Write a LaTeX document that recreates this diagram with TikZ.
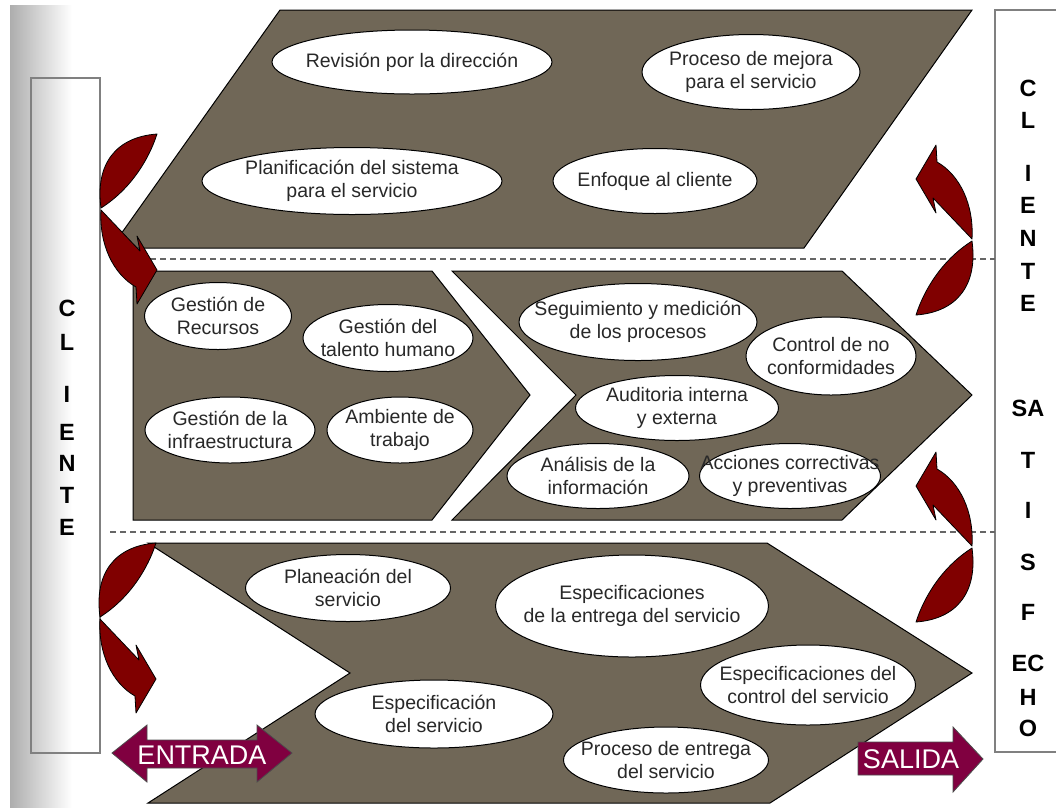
\documentclass[tikz,border=0pt]{standalone}
\usepackage{fontspec}
\setmainfont{Liberation Sans}
\usetikzlibrary{shapes.geometric}

\definecolor{fondo}{RGB}{112,103,87}
\definecolor{rojo}{RGB}{128,0,0}
\definecolor{vino}{RGB}{128,0,64}
\definecolor{texto}{RGB}{40,40,40}

\tikzset{
  etapa/.style={draw=black, fill=fondo, line width=1pt},
  burbuja/.style 2 args={ellipse, draw=black, fill=white, line width=1pt,
    minimum width=#1, minimum height=#2, inner sep=0pt},
  every label/.style={align=center, text=texto, inner sep=0pt,
    font=\fontsize{19.5}{23}\selectfont},
  columna/.style={draw=black!50, line width=1.5pt},
  letra/.style={font=\fontsize{23.5}{24}\selectfont\bfseries, inner sep=0pt},
  corte/.style={black!60, line width=1.3pt, dash pattern=on 6pt off 4pt},
  giro/.style={draw=black, fill=rojo, line width=0.8pt, line join=round},
  flecha/.style={draw=black!70, fill=vino, line width=0.8pt},
  cartel/.style={text=white, inner sep=0pt, font=\fontsize{27}{27}\selectfont},
  vuelta/.pic={
    %leaf above the meeting point
    \path[giro] (0,-1) .. controls (-6,-45) and (15,-72) .. (56,-75)
      .. controls (48,-50) and (30,-20) .. cycle;
    %bent arrow below it
    \path[giro] (0,1) -- (39,42) -- (36,27) -- (56,61) -- (36,95) -- (35,78)
      .. controls (12,65) and (-2,35) .. cycle;
  }
}

\begin{document}
\begin{tikzpicture}[x=1pt, y=-1pt]
  \useasboundingbox (0,0) rectangle (1056,807);
  %shadow strip and the two client columns
  \shade[left color=black!32, right color=white] (10,5) rectangle (72,807);
  \draw[columna] (31,78) rectangle (100,753);
  \draw[columna] (1060,10) -- (995,10) -- (995,752) -- (1060,752);
  \foreach \t/\y [count=\i] in {C/308,L/342,I/394,E/432,N/463,T/495,E/527}
    \node[letra] (izq\i) at (67,\y) {\t};
  \foreach \t/\y [count=\i] in {C/88,L/120,I/173,E/205,N/238,T/271,E/303,
      SA/408,T/460,I/510,S/562,F/612,EC/663,H/697,O/728}
    \node[letra] (der\i) at (1028,\y) {\t};

  \draw[corte] (110,259) -- (995,259);
  \draw[corte] (110,532) -- (995,532);

  %the four process blocks
  \path[etapa] (280,10) -- (972,10) -- (804,248) -- (111,248) -- cycle;
  \path[etapa] (133,271) -- (432,271) -- (530,395) -- (432,520) -- (133,520) -- cycle;
  \path[etapa] (452,271) -- (842,271) -- (972,395) -- (842,520) -- (452,520)
    -- (576,395) -- cycle;
  \path[etapa] (148,543) -- (767,543) -- (972,673) -- (770,803) -- (148,803)
    -- (350,673) -- cycle;

  %direction
  \node[burbuja={280}{64}, label=center:{Revisión por la dirección}] (revision) at (412,62) {};
  \node[burbuja={218}{75}, label=center:{Proceso de mejora\\para el servicio}] (mejora) at (751,72) {};
  \node[burbuja={300}{67}, label=center:{Planificación del sistema\\para el servicio}] (planificacion) at (352,181) {};
  \node[burbuja={204}{65}, label=center:{Enfoque al cliente}] (enfoque) at (655,181) {};
  %resources
  \node[burbuja={147}{67}, label=center:{Gestión de\\Recursos}] (recursos) at (218,316) {};
  \node[burbuja={170}{67}, label=center:{Gestión del\\talento humano}] (talento) at (388,338) {};
  \node[burbuja={170}{66}, label=center:{Gestión de la\\infraestructura}] (infra) at (230,430) {};
  \node[burbuja={146}{66}, label=center:{Ambiente de\\trabajo}] (ambiente) at (400,430) {};
  %measurement
  \node[burbuja={238}{77}, label=center:{Seguimiento y medición\\de los procesos}] (seguimiento) at (638,322) {};
  \node[burbuja={170}{78}, label=center:{Control de no\\conformidades}] (control) at (831,356) {};
  \node[burbuja={203}{65}, label=center:{Auditoria interna\\y externa}] (auditoria) at (677,408) {};
  \node[burbuja={182}{65}, label=center:{Análisis de la\\información}] (analisis) at (598,476) {};
  \node[burbuja={181}{65}, label=center:{Acciones correctivas\\y preventivas}] (acciones) at (790,476) {};
  %service realisation
  \node[burbuja={205}{67}, label=center:{Planeación del\\servicio}] (planeacion) at (348,588) {};
  \node[burbuja={273}{102}, label=center:{Especificaciones\\de la entrega del servicio}] (entrega) at (632,606) {};
  \node[burbuja={215}{80}, label=center:{Especificaciones del\\control del servicio}] (espcontrol) at (808,685) {};
  \node[burbuja={238}{68}, label=center:{Especificación\\del servicio}] (especificacion) at (434,714) {};
  \node[burbuja={205}{66}, label=center:{Proceso de entrega\\del servicio}] (proceso) at (666,760) {};

  %client loops
  \pic at (101,209) {vuelta};
  \pic at (100,618) {vuelta};
  \pic[rotate=180] at (972,240) {vuelta};
  \pic[rotate=180] at (972,547) {vuelta};

  %input and output
  \path[flecha] (112,753) -- (147,725) -- (147,740) -- (257,740) -- (257,725) -- (292,753)
    -- (257,782) -- (257,768) -- (147,768) -- (147,782) -- cycle;
  \node[cartel] (entrada) at (202,755) {ENTRADA};
  \path[flecha] (858,742) -- (953,742) -- (953,727) -- (983,759) -- (953,792) -- (953,775)
    -- (858,775) -- cycle;
  \node[cartel] (salida) at (911,759) {SALIDA};
\end{tikzpicture}
\end{document}
